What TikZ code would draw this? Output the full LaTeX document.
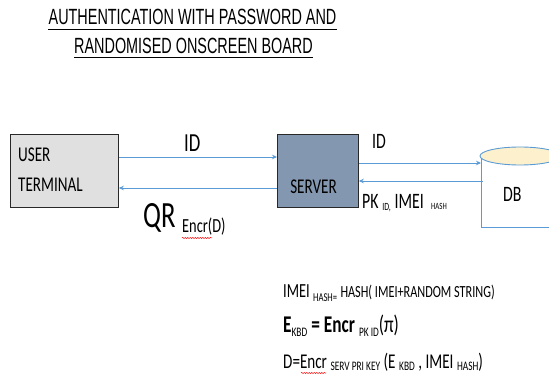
\documentclass[tikz,border=0pt]{standalone}
\usepackage{fontspec}
\setmainfont[FakeStretch=0.72]{Carlito}
\newfontfamily\titlefont[FakeStretch=0.655]{Liberation Sans}
\usetikzlibrary{arrows.meta,decorations.pathmorphing}
\definecolor{linkblue}{RGB}{91,155,213}
\definecolor{servfill}{RGB}{132,151,176}
\definecolor{servedge}{RGB}{40,40,40}
\definecolor{userfill}{RGB}{224,224,224}
\definecolor{dbtopfill}{RGB}{253,240,205}
\newcommand\fs[1]{\fontsize{#1}{#1}\selectfont}
\newcommand\lowered[3]{{\fs{#1}\raisebox{-#2pt}{#3}}}
\tikzset{
  box/.style={draw=servedge, line width=0.8pt, minimum width=#1, minimum height=73pt, inner sep=0pt},
  link/.style={draw=linkblue, line width=0.9pt, -{Stealth[length=5pt,width=4.5pt]}},
  lbl/.style={inner sep=0pt, anchor=base west},
  squiggle/.style={draw=red, line width=0.5pt, decorate, decoration={snake, amplitude=0.6pt, segment length=2.5pt}}
}
\begin{document}
\begin{tikzpicture}[x=1pt,y=-1pt]
\useasboundingbox (0,0) rectangle (549,379);
\clip (0,0) rectangle (549,379);

% heading
\node[inner sep=0pt, font=\titlefont\fs{22}] (t1) at (192.5,17) {AUTHENTICATION WITH PASSWORD AND};
\node[inner sep=0pt, font=\titlefont\fs{22}] (t2) at (193.5,45.5) {RANDOMISED ONSCREEN BOARD};
\draw[line width=0.8pt] (t1.west |- 0,29) -- (t1.east |- 0,29);
\draw[line width=0.8pt] (t2.west |- 0,57) -- (t2.east |- 0,57);

% boxes
\node[box=108pt, fill=userfill, anchor=north west] (user) at (10,134.5) {};
\node[lbl, font=\fs{21}] (u1) at (18,162) {USER};
\node[lbl, font=\fs{21}] (u2) at (18,192) {TERMINAL};

\node[box=81pt, fill=servfill, anchor=north west] (server) at (277,134.5) {};
\node[anchor=base, inner sep=0pt, font=\fs{21}] (slabel) at (313.5,194) {SERVER};

% database cylinder (its right part runs off the page)
\coordinate (dbtl) at (481,156);
\coordinate (dbbl) at (481,227);
\fill[white] (dbtl) -- (dbbl) -- (600,227) -- (600,156) -- cycle;
\draw[linkblue, line width=0.9pt] (dbtl) -- (dbbl) -- (600,227);
\draw[linkblue, line width=0.9pt, fill=dbtopfill] (520,156) ellipse [x radius=40pt, y radius=9pt];
\node[lbl, font=\fs{22}] (db) at (503,202) {DB};

% links
\draw[link] (user.east |- 0,157) -- (server.west |- 0,157);
\draw[link] (server.west |- 0,188) -- (user.east |- 0,188);
\draw[link] (server.east |- 0,163) -- (dbtl |- 0,163);
\coordinate (dbret) at (483,181);
\draw[link] (dbret) -- (server.east |- 0,181);

% link labels
\node[lbl, font=\fs{26}] (id1) at (184,152) {ID};
\node[lbl, font=\fs{22}] (id2) at (372,149) {ID};
\node[lbl, font=\fs{37}] (qr) at (143,228) {QR};
\node[lbl, font=\fs{20}] (qrsub) at (182,233) {Encr(D)};
\draw[squiggle] (182,238) -- (212,238);
\node[lbl, font=\fs{22}] (pk) at (362,209)
  {PK\,\lowered{11}{1.5}{ID,}\,IMEI\,\,\lowered{9.5}{0.5}{HASH}};

% formulas
\node[lbl, font=\fs{20}] (f1) at (283,298)
  {IMEI\,\lowered{12}{4}{HASH=}\,{\fs{17}HASH(\,IMEI+RANDOM STRING)}};
\node[lbl, font=\fs{24}] (f2) at (283,333)
  {\textbf{E}\lowered{13}{3.5}{KBD}\,\textbf{=}\,\textbf{Encr}\,\lowered{13}{3.5}{PK ID}(π)};
\node[lbl, font=\fs{21}] (f3) at (283,368)
  {D=Encr\,\lowered{13}{2}{SERV PRI KEY}\,(E\,\lowered{13}{2}{KBD}\,,\,IMEI\,\lowered{13}{2}{HASH})};
\draw[squiggle] (301,373) -- (326,373);
\end{tikzpicture}
\end{document}
